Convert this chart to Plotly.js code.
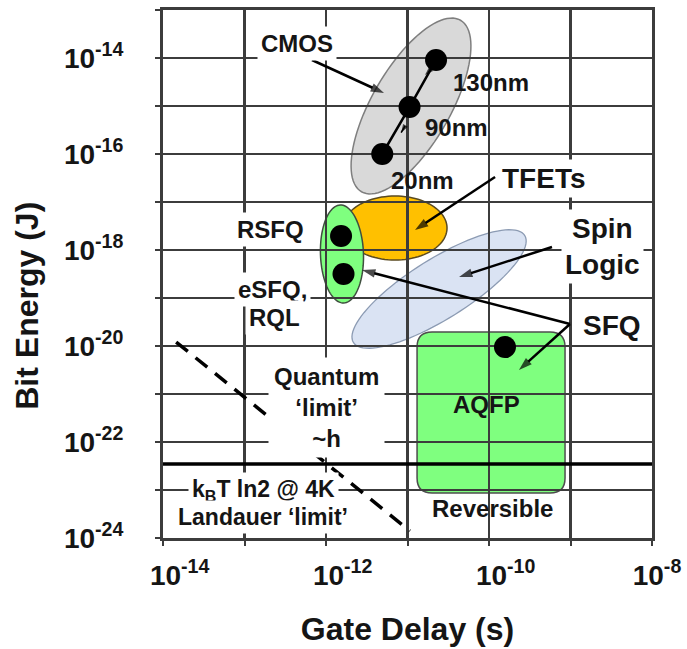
<!DOCTYPE html>
<html>
<head>
<meta charset="utf-8">
<script src="https://cdn.plot.ly/plotly-3.0.1.min.js"></script>
<style>html,body{margin:0;padding:0;background:#fff;}#chart{width:687px;height:649px;}</style>
</head>
<body>
<div id="chart"></div>
<script>
// ---------------- data ----------------
const xTickVals = [1e-14, 1e-12, 1e-10, 1e-8];
const xTickText = ['10<sup>-14</sup>', '10<sup>-12</sup>', '10<sup>-10</sup>', '10<sup>-8</sup>'];
const yTickVals = [1e-24, 1e-22, 1e-20, 1e-18, 1e-16, 1e-14];
const yTickText = ['10<sup>-24</sup>', '10<sup>-22</sup>', '10<sup>-20</sup>', '10<sup>-18</sup>', '10<sup>-16</sup>', '10<sup>-14</sup>'];

// CMOS technology nodes
const cmosNodes = ['130nm', '90nm', '20nm'];
const cmosDelay = [2.24e-11, 1.06e-11, 4.9e-12];
const cmosEnergy = [9.1e-15, 9.5e-16, 1.0e-16];

// superconducting logic points
const sfqNames = ['RSFQ', 'eSFQ, RQL', 'AQFP'];
const sfqDelay = [1.53e-12, 1.64e-12, 1.57e-10];
const sfqEnergy = [1.96e-18, 3.16e-19, 9.5e-21];

// limits
const quantumDelay = [1.45e-14, 1.07e-11];
const quantumEnergy = [1.21e-20, 1.4e-24];
const landauerDelay = [1e-14, 1e-8];
const landauerEnergy = [3.48e-23, 3.48e-23];

// technology regions (ellipses): centre delay / energy
const regionNames = ['Spin Logic', 'CMOS', 'TFETs', 'SFQ'];
const regionDelay = [2.44e-11, 1.104e-11, 7.03e-12, 1.57e-12];
const regionEnergy = [1.54e-19, 1.0e-15, 2.87e-18, 8.26e-19];
// AQFP / reversible box
const aqfpDelayRange = [1.31e-11, 8.57e-10];
const aqfpEnergyRange = [8.66e-24, 1.96e-20];

// pointer arrows: tail -> head (delay, energy)
const arrowTailDelay = [6.73e-13, 1.186e-10, 5.93e-10, 9.86e-10, 9.86e-10, 2.0e-11, 9.35e-12];
const arrowTailEnergy = [9.08e-15, 3.32e-17, 1.155e-18, 2.87e-20, 2.87e-20, 6.2e-15, 3.83e-16];
const arrowHeadDelay = [5.15e-12, 1.236e-11, 4.29e-11, 2.77e-12, 2.33e-10, 1.64e-11, 8.35e-12];
const arrowHeadEnergy = [1.866e-15, 2.61e-18, 2.74e-19, 3.83e-19, 3.16e-21, 4.43e-15, 2.78e-16];

// ---------------- layout geometry ----------------
const W = 687, H = 649;
const M = {l: 163, r: 35, t: 10, b: 111};
const xRange = [-14, -8], yRange = [-24, -13];
const pxX = (W - M.l - M.r) / (xRange[1] - xRange[0]);
const pxY = (H - M.t - M.b) / (yRange[1] - yRange[0]);
const L10 = Math.log10;

// ellipse geometry (semi axes in px, rotation deg) and styles
const regionGeom = [
  {a: 101, b: 30, ang: 32, fill: '#dae3f3', line: '#8c9bb3', lw: 1.3},
  {a: 99, b: 39, ang: 60, fill: '#d9d9d9', line: '#7f7f7f', lw: 1.5},
  {a: 52, b: 32, ang: 0, fill: '#ffc000', line: '#5a4a20', lw: 1.5},
  {a: 49, b: 21.5, ang: 92, fill: '#7fff7f', line: '#3f4f3f', lw: 1.5}
];

function num(v) { return v.toExponential(6); }
function ellipsePath(cx, cy, g) {
  const lcx = L10(cx), lcy = L10(cy), th = g.ang * Math.PI / 180;
  const pts = [];
  for (let i = 0; i < 96; i++) {
    const t = 2 * Math.PI * i / 96;
    const dx = g.a * Math.cos(t) * Math.cos(th) - g.b * Math.sin(t) * Math.sin(th);
    const dy = g.a * Math.cos(t) * Math.sin(th) + g.b * Math.sin(t) * Math.cos(th);
    pts.push([Math.pow(10, lcx + dx / pxX), Math.pow(10, lcy + dy / pxY)]);
  }
  return 'M' + pts.map(p => num(p[0]) + ',' + num(p[1])).join('L') + 'Z';
}
function roundRectPath(xr, yr, rad) {
  const x0 = L10(xr[0]), x1 = L10(xr[1]), y0 = L10(yr[0]), y1 = L10(yr[1]);
  const rx = rad / pxX, ry = rad / pxY;
  const P = (lx, ly) => num(Math.pow(10, lx)) + ',' + num(Math.pow(10, ly));
  return 'M' + P(x0 + rx, y1) + 'L' + P(x1 - rx, y1) + 'Q' + P(x1, y1) + ' ' + P(x1, y1 - ry) +
    'L' + P(x1, y0 + ry) + 'Q' + P(x1, y0) + ' ' + P(x1 - rx, y0) +
    'L' + P(x0 + rx, y0) + 'Q' + P(x0, y0) + ' ' + P(x0, y0 + ry) +
    'L' + P(x0, y1 - ry) + 'Q' + P(x0, y1) + ' ' + P(x0 + rx, y1) + 'Z';
}

const shapes = regionNames.map((n, i) => ({
  type: 'path', xref: 'x', yref: 'y', layer: 'below',
  path: ellipsePath(regionDelay[i], regionEnergy[i], regionGeom[i]),
  fillcolor: regionGeom[i].fill, line: {color: regionGeom[i].line, width: regionGeom[i].lw}
}));
shapes.push({
  type: 'path', xref: 'x', yref: 'y', layer: 'below',
  path: roundRectPath(aqfpDelayRange, aqfpEnergyRange, 15),
  fillcolor: '#7fff7f', line: {color: '#4d4d4d', width: 1.5}
});

// ---------------- traces ----------------
function arrowTrace(idx, width, size) {
  const x = [], y = [], s = [];
  idx.forEach(i => {
    x.push(arrowTailDelay[i], arrowHeadDelay[i], null);
    y.push(arrowTailEnergy[i], arrowHeadEnergy[i], null);
    s.push(0, size, 0);
  });
  return {x: x, y: y, mode: 'lines+markers', connectgaps: false, hoverinfo: 'skip',
    line: {color: '#000', width: width},
    marker: {symbol: 'arrow', size: s, color: '#000', angleref: 'previous', line: {width: 0}}};
}
const traces = [
  {x: quantumDelay, y: quantumEnergy, mode: 'lines', line: {color: '#000', width: 3.5, dash: '15px,10px'}, hoverinfo: 'skip'},
  {x: landauerDelay, y: landauerEnergy, mode: 'lines', line: {color: '#000', width: 3.5}, hoverinfo: 'skip'},
  {x: cmosDelay, y: cmosEnergy, text: cmosNodes, mode: 'lines+markers', line: {color: '#000', width: 2.5},
   marker: {size: 22, color: '#000'}, hoverinfo: 'skip'},
  {x: sfqDelay, y: sfqEnergy, text: sfqNames, mode: 'markers', marker: {size: 22, color: '#000'}, hoverinfo: 'skip'},
  arrowTrace([0, 1, 2, 3, 4], 2.5, 14),
  arrowTrace([5, 6], 1.5, 9)
];

// ---------------- annotations ----------------
const FF = 'Arial, "Liberation Sans", sans-serif';
const TC = '#151515';
function lab(text, lx, ly, size, bg, extra) {
  return Object.assign({
    text: text, x: lx, y: ly, xref: 'x', yref: 'y', showarrow: false,
    font: {family: FF, size: size, color: TC, weight: 'bold'},
    bgcolor: bg ? '#ffffff' : 'rgba(0,0,0,0)', borderpad: bg ? 3 : 0
  }, extra || {});
}
const annotations = [
  lab('CMOS', -12.356, -13.6875, 24, true),
  lab(cmosNodes[0], -9.975, -14.5, 24, false),
  lab(cmosNodes[1], -10.393, -15.458, 24, false),
  lab(cmosNodes[2], -10.822, -16.542, 24, false),
  lab('TFETs', -9.337, -16.5, 28, true),
  lab('Spin<br>Logic', -8.613, -17.917, 28, true),
  lab('SFQ', -8.491, -19.5625, 28, true),
  lab('RSFQ', -12.675, -17.583, 24, true),
  lab('eSFQ,', -12.656, -18.8125, 24, true),
  lab('RQL', -12.638, -19.396, 24, true),
  lab('Quantum<br>‘limit’<br>~h', -11.994, -21.271, 24, true, {borderpad: 5}),
  lab('k<sub>B</sub>T ln2 @ 4K', -12.773, -23.0, 23, true),
  lab('Landauer ‘limit’', -12.773, -23.5625, 23, true),
  lab('AQFP', -10.025, -21.229, 24, false),
  lab('Reversible', -9.951, -23.375, 24, false),
  {text: 'Bit Energy (J)', xref: 'paper', yref: 'paper', x: -0.278, y: 0.44, textangle: -90,
   showarrow: false, xanchor: 'center', yanchor: 'middle',
   font: {family: FF, size: 32, color: TC, weight: 'bold'}}
];

const gridC = '#3c3c3c';
const minorCommon = {dtick: 1, showgrid: true, gridcolor: gridC, gridwidth: 2.5,
  ticks: 'outside', ticklen: 5, tickwidth: 2, tickcolor: gridC};
const axisCommon = {
  type: 'log', showgrid: true, gridcolor: gridC, gridwidth: 2.5,
  showline: true, linecolor: gridC, linewidth: 3, mirror: true,
  ticks: 'outside', ticklen: 5, tickwidth: 2, tickcolor: gridC,
  tickmode: 'array', zeroline: false, fixedrange: true, ticklabeloverflow: 'allow',
  minor: minorCommon,
  tickfont: {family: FF, size: 28, color: TC, weight: 'bold'}
};
// leading no-break spaces keep the mantissa "10" centred on its tick
const PAD = '\u00a0\u00a0\u00a0';
const layout = {
  width: W, height: H, margin: M, showlegend: false,
  paper_bgcolor: '#ffffff', plot_bgcolor: '#ffffff',
  xaxis: Object.assign({}, axisCommon, {
    range: xRange, tickvals: xTickVals,
    ticktext: xTickText.map((t, i) => i < xTickText.length - 1 ? PAD + t : t),
    ticklabelshift: 5, ticklabelstandoff: 5,
    title: {text: 'Gate Delay (s)', font: {family: FF, size: 32, color: TC, weight: 'bold'}, standoff: 29}
  }),
  yaxis: Object.assign({}, axisCommon, {
    range: yRange, tickvals: yTickVals, ticktext: yTickText, ticklabelstandoff: 26
  }),
  shapes: shapes, annotations: annotations
};
Plotly.newPlot('chart', traces, layout, {staticPlot: true, displayModeBar: false});
</script>
</body>
</html>
